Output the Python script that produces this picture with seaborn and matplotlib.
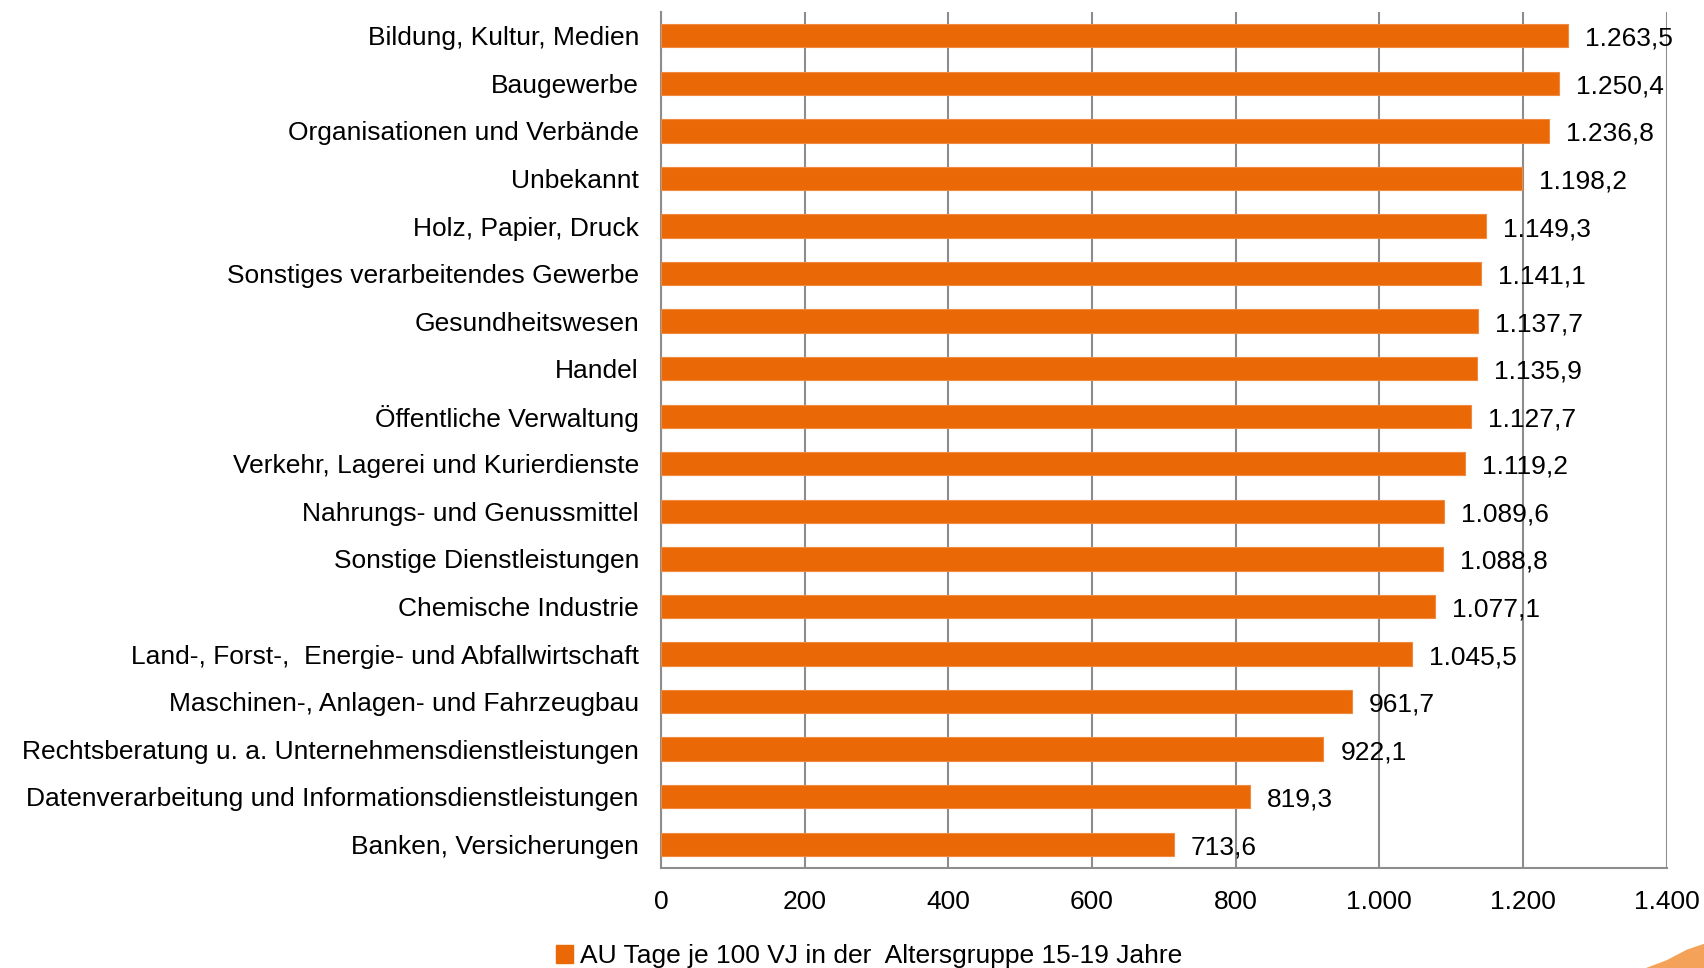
import numpy as np
import pandas as pd
import matplotlib
matplotlib.use("Agg")
import matplotlib.pyplot as plt
from matplotlib.patches import Polygon
import seaborn as sns

# Data
branchen = [
    "Bildung, Kultur, Medien",
    "Baugewerbe",
    "Organisationen und Verbände",
    "Unbekannt",
    "Holz, Papier, Druck",
    "Sonstiges verarbeitendes Gewerbe",
    "Gesundheitswesen",
    "Handel",
    "Öffentliche Verwaltung",
    "Verkehr, Lagerei und Kurierdienste",
    "Nahrungs- und Genussmittel",
    "Sonstige Dienstleistungen",
    "Chemische Industrie",
    "Land-, Forst-,  Energie- und Abfallwirtschaft",
    "Maschinen-, Anlagen- und Fahrzeugbau",
    "Rechtsberatung u. a. Unternehmensdienstleistungen",
    "Datenverarbeitung und Informationsdienstleistungen",
    "Banken, Versicherungen",
]
au_tage = [1263.5, 1250.4, 1236.8, 1198.2, 1149.3, 1141.1, 1137.7, 1135.9, 1127.7,
           1119.2, 1089.6, 1088.8, 1077.1, 1045.5, 961.7, 922.1, 819.3, 713.6]
x_ticks = [0, 200, 400, 600, 800, 1000, 1200, 1400]
series_name = "AU Tage je 100 VJ in der  Altersgruppe 15-19 Jahre"

BAR_COLOR = "#EA6805"
GRID_COLOR = "#8C8C8C"
FS = 19


def fmt_de(v, decimals=1):
    s = f"{v:,.{decimals}f}"
    return s.replace(",", "X").replace(".", ",").replace("X", ".")


def main():
    df = pd.DataFrame({"Branche": branchen, "Wert": au_tage})

    sns.set_style("white")
    plt.rcParams["font.family"] = ["Liberation Sans", "DejaVu Sans"]
    plt.rcParams["text.color"] = "black"
    plt.rcParams["xtick.labelcolor"] = "black"
    plt.rcParams["ytick.labelcolor"] = "black"

    fig = plt.figure(figsize=(17.04, 9.68), dpi=100)
    ax = fig.add_axes([0.388, 0.1033, 0.590, 0.8843])

    sns.barplot(data=df, x="Wert", y="Branche", orient="h", color=BAR_COLOR,
                width=0.49, saturation=1, edgecolor="#F08A40", linewidth=0.8,
                ax=ax, zorder=3)

    ax.set_xlim(0, 1400)
    ax.set_ylim(len(branchen) - 0.5, -0.5)
    ax.set_xticks(x_ticks)
    ax.set_xticklabels([fmt_de(t, 0) for t in x_ticks], fontsize=FS)
    ax.grid(axis="x", color=GRID_COLOR, linewidth=1.5, zorder=0)
    ax.set_axisbelow(True)

    # category ticks sit between the bars
    ax.set_yticks(np.arange(len(branchen)))
    ax.set_yticklabels(branchen, fontsize=FS)
    ax.set_yticks(np.arange(-0.5, len(branchen)), minor=True)
    ax.tick_params(axis="y", which="major", length=0, pad=16)
    ax.tick_params(axis="y", which="minor", length=7, width=1.5, color=GRID_COLOR, direction="out")
    ax.tick_params(axis="x", which="major", length=7, width=1.5, color=GRID_COLOR,
                   direction="out", pad=9)
    ax.set_xlabel("")
    ax.set_ylabel("")

    for side in ["top", "right"]:
        ax.spines[side].set_visible(False)
    for side in ["left", "bottom"]:
        ax.spines[side].set_color(GRID_COLOR)
        ax.spines[side].set_linewidth(1.5)

    # value labels
    for i, v in enumerate(au_tage):
        ax.annotate(fmt_de(v), (v, i), xytext=(17, -3), textcoords="offset pixels",
                    ha="left", va="center", fontsize=FS, zorder=5)

    # legend
    handle = plt.Rectangle((0, 0), 1, 1, color=BAR_COLOR)
    fig.legend([handle], [series_name], loc="center", bbox_to_anchor=(0.510, 0.012),
               frameon=False, fontsize=FS, handlelength=0.65, handleheight=0.65,
               handletextpad=0.25)

    # decorative swoosh bottom right
    swoosh = Polygon([(0.966, 0.0), (1.0, 0.0), (1.0, 0.025), (0.99, 0.019), (0.978, 0.008)],
                     closed=True, transform=fig.transFigure, color="#F4A25A", lw=0)
    fig.add_artist(swoosh)

    fig.savefig("out.png", dpi=100)


if __name__ == "__main__":
    main()
